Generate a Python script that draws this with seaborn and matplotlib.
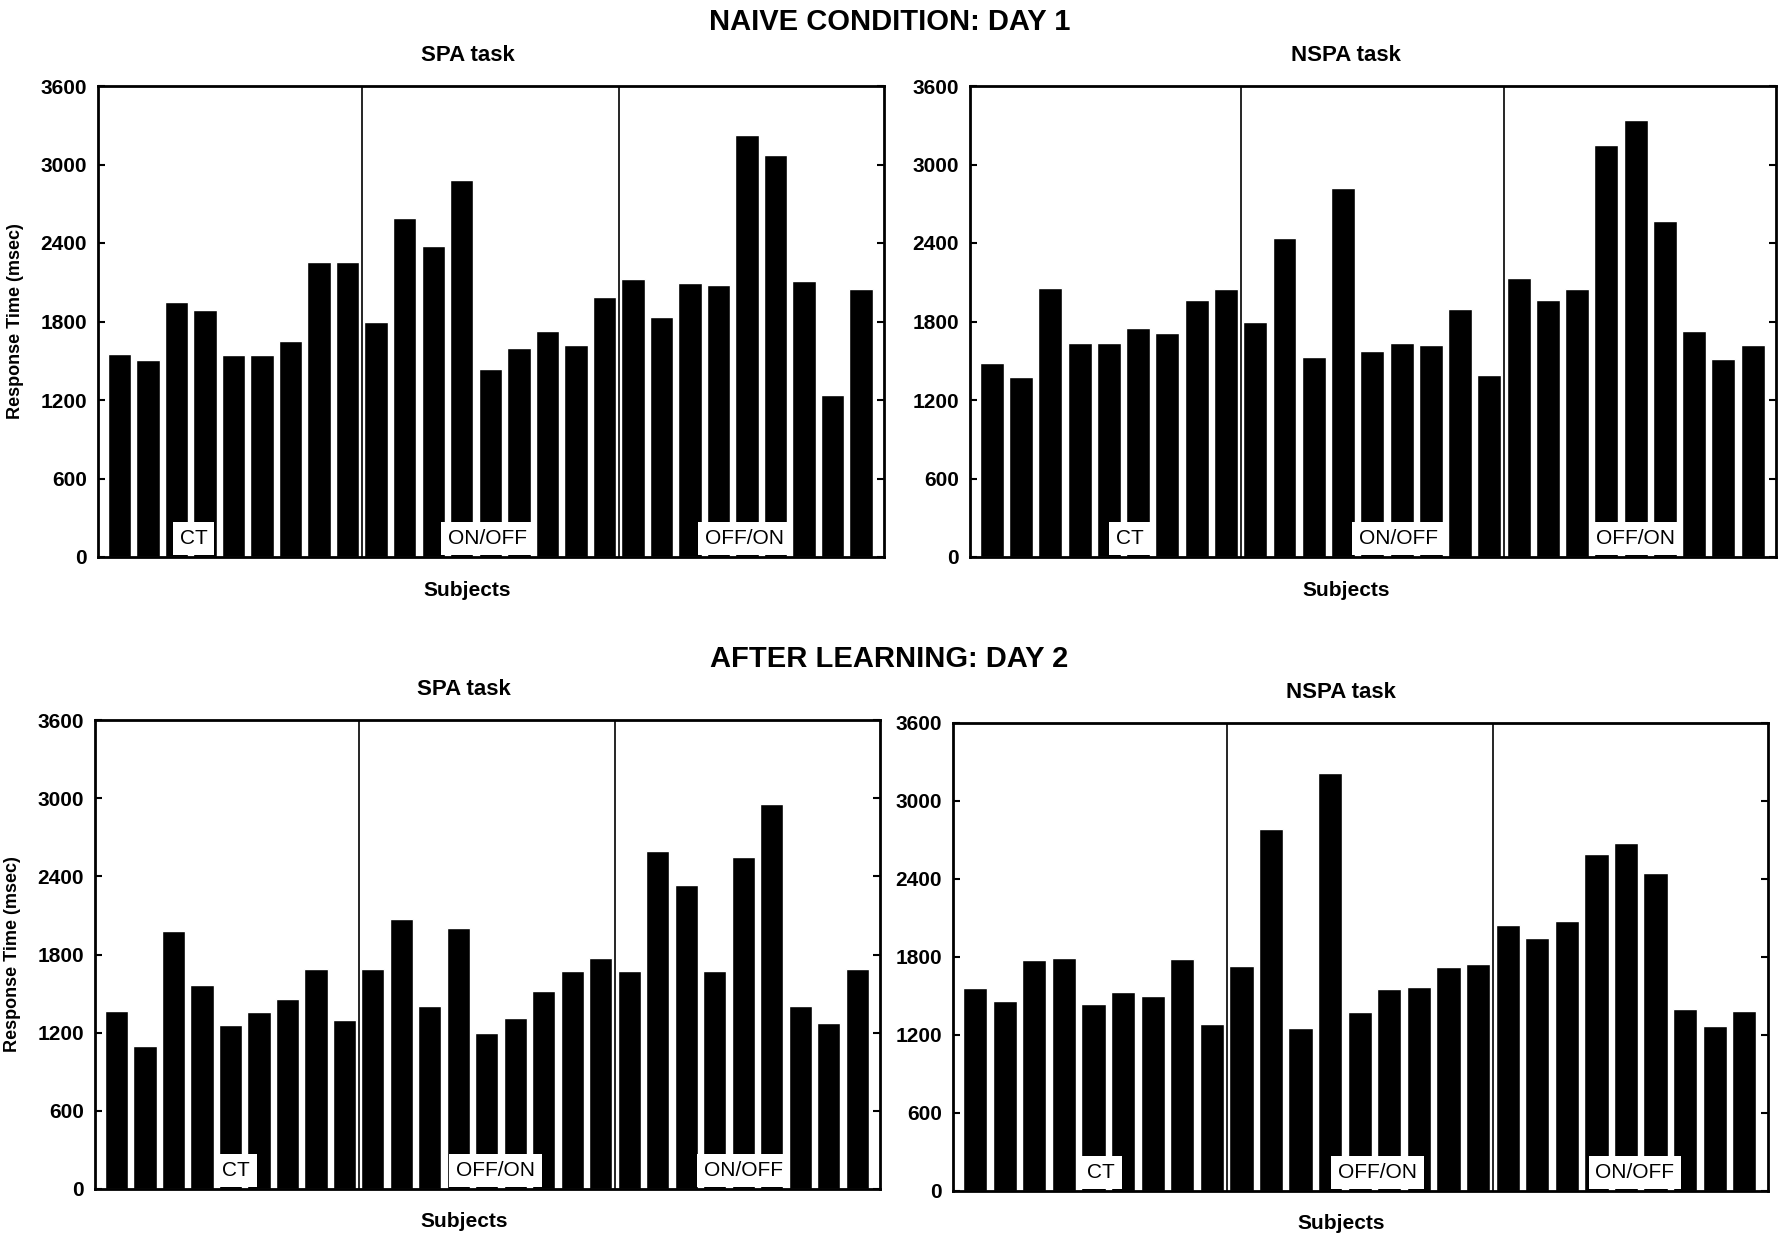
import numpy as np
import pandas as pd
import seaborn as sns
import matplotlib.pyplot as plt

# response times (msec), 27 subjects per panel, 3 groups of 9
day1_spa = [1553, 1504, 1951, 1887, 1543, 1543, 1650, 2251, 2251,
            1800, 2588, 2376, 2879, 1435, 1599, 1724, 1619, 1991,
            2126, 1833, 2093, 2078, 3223, 3075, 2111, 1242, 2045]
day1_nspa = [1479, 1377, 2058, 1634, 1634, 1749, 1713, 1968, 2045,
             1800, 2440, 1532, 2823, 1578, 1639, 1619, 1894, 1392,
             2132, 1963, 2045, 3151, 3338, 2565, 1724, 1512, 1622]
day2_spa = [1366, 1094, 1981, 1568, 1259, 1355, 1459, 1685, 1297,
            1691, 2071, 1406, 2005, 1201, 1310, 1520, 1677, 1770,
            1677, 2596, 2332, 1677, 2545, 2955, 1403, 1275, 1691]
day2_nspa = [1558, 1464, 1778, 1789, 1438, 1528, 1502, 1781, 1281,
             1733, 2782, 1254, 3216, 1376, 1552, 1568, 1720, 1744,
             2050, 1944, 2079, 2596, 2676, 2444, 1403, 1270, 1384]

groups_day1 = ['CT', 'ON/OFF', 'OFF/ON']
groups_day2 = ['CT', 'OFF/ON', 'ON/OFF']
yticks = [0, 600, 1200, 1800, 2400, 3000, 3600]

sns.set_style("white")
plt.rcParams['font.family'] = ['Liberation Sans', 'DejaVu Sans']
plt.rcParams['text.color'] = 'black'
plt.rcParams['axes.labelcolor'] = 'black'
plt.rcParams['xtick.color'] = 'black'
plt.rcParams['ytick.color'] = 'black'

fig = plt.figure(figsize=(17.79, 12.34), dpi=100)

# axes rectangles in pixels (left, top, right, bottom)
W, H = 1779, 1234
boxes = [(98, 86, 884, 557), (970, 86, 1776, 557),
         (95, 720, 880, 1189), (953, 723, 1768, 1191)]
panels = [(day1_spa, groups_day1, 'SPA task', [2.6, 12.9, 21.9], 0.47),
          (day1_nspa, groups_day1, 'NSPA task', [4.7, 13.9, 22.0], 0.467),
          (day2_spa, groups_day2, 'SPA task', [4.2, 13.3, 22.0], 0.47),
          (day2_nspa, groups_day2, 'NSPA task', [4.25, 13.6, 22.3], 0.476)]

for i, ((vals, grp, title, lab_x, tx), (x0, y0, x1, y1)) in enumerate(zip(panels, boxes)):
    ax = fig.add_axes([x0 / W, 1 - y1 / H, (x1 - x0) / W, (y1 - y0) / H])
    df = pd.DataFrame({'subject': np.arange(len(vals)), 'rt': vals})
    sns.barplot(data=df, x='subject', y='rt', color='black', width=0.82,
                saturation=1, ax=ax)
    ax.set_xlim(-0.75, 26.8)
    ax.set_ylim(0, 3600)
    ax.set_yticks(yticks)
    ax.set_yticklabels([str(t) for t in yticks], fontsize=15, fontweight='bold')
    ax.set_xticks([])
    ax.tick_params(axis='y', direction='in', length=5, width=1.5, right=True, left=True, pad=8)
    for s in ax.spines.values():
        s.set_visible(True)
        s.set_color('black')
        s.set_linewidth(2)
    for xv in [8.5, 17.5]:
        ax.axvline(xv, color='black', lw=1.2)
    for name, lx in zip(grp, lab_x):
        ax.text(lx, 140, name, ha='center', va='center', fontsize=15,
                bbox=dict(facecolor='white', edgecolor='none', pad=5))
    ax.set_title(title, fontsize=16, fontweight='bold', pad=18, x=tx)
    ax.set_xlabel('Subjects', fontsize=15, fontweight='bold')
    ax.xaxis.set_label_coords(tx, -0.05, transform=ax.transAxes)
    ax.xaxis.label.set_va('top')
    if i % 2 == 0:
        ax.set_ylabel('Response Time (msec)', fontsize=13, fontweight='bold', labelpad=12)
    else:
        ax.set_ylabel('')

fig.text(0.5, 1 - 22 / H, 'NAIVE CONDITION: DAY 1', ha='center', va='center',
         fontsize=21, fontweight='bold')
fig.text(0.5, 1 - 659 / H, 'AFTER LEARNING: DAY 2', ha='center', va='center',
         fontsize=21, fontweight='bold')

fig.savefig('out.png', dpi=100, facecolor='white')
